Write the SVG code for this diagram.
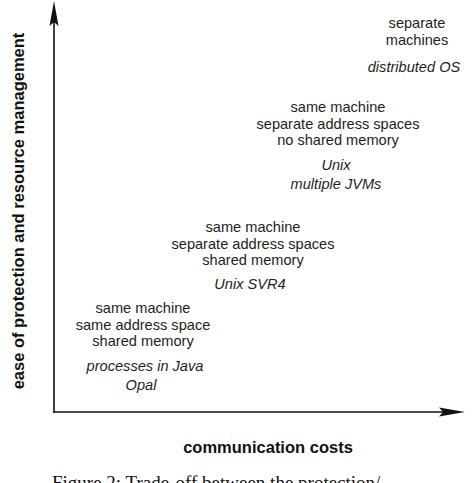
<svg xmlns="http://www.w3.org/2000/svg" width="474" height="483" viewBox="0 0 474 483">
<style>
.t{font-family:"Liberation Sans",Arial,sans-serif;font-size:14.6px;fill:#1e1e1e;text-anchor:middle}
.i{font-style:italic}
.b{font-family:"Liberation Sans",Arial,sans-serif;font-size:16.5px;font-weight:bold;fill:#111;text-anchor:middle}
.cap{font-family:"Liberation Serif","Times New Roman",serif;font-size:19px;fill:#111}
.ax{stroke:#111;stroke-width:1.6;fill:none}
.ah{fill:#111}
</style>
<rect width="474" height="483" fill="#fff"/>
<g id="axes">
<line class="ax" x1="54" y1="20" x2="54" y2="413"/>
<line class="ax" x1="53.2" y1="412" x2="446" y2="412"/>
<path class="ah" d="M54,1 L58.5,26 L54,22 L49.5,26 Z"/>
<path class="ah" d="M465,412 L439,407.5 L443,412 L439,416.5 Z"/>
</g>
<g id="ylabel"><text class="b" transform="translate(24,211) rotate(-90)">ease of protection and resource management</text></g>
<g id="xlabel"><text class="b" x="268" y="453">communication costs</text></g>
<g id="n4">
<text class="t" x="417" y="28">separate</text>
<text class="t" x="417" y="45">machines</text>
<text class="t i" x="414" y="72">distributed OS</text>
</g>
<g id="n3">
<text class="t" x="338" y="112">same machine</text>
<text class="t" x="338" y="128.5">separate address spaces</text>
<text class="t" x="338" y="145">no shared memory</text>
<text class="t i" x="336" y="170">Unix</text>
<text class="t i" x="336" y="189">multiple JVMs</text>
</g>
<g id="n2">
<text class="t" x="253" y="232">same machine</text>
<text class="t" x="253" y="248.5">separate address spaces</text>
<text class="t" x="253" y="265">shared memory</text>
<text class="t i" x="250" y="289">Unix SVR4</text>
</g>
<g id="n1">
<text class="t" x="143" y="313">same machine</text>
<text class="t" x="143" y="329.5">same address space</text>
<text class="t" x="143" y="346">shared memory</text>
<text class="t i" x="145" y="371">processes in Java</text>
<text class="t i" x="141" y="390">Opal</text>
</g>
<text class="cap" x="52" y="489">Figure 2: Trade-off between the protection/</text>
</svg>
